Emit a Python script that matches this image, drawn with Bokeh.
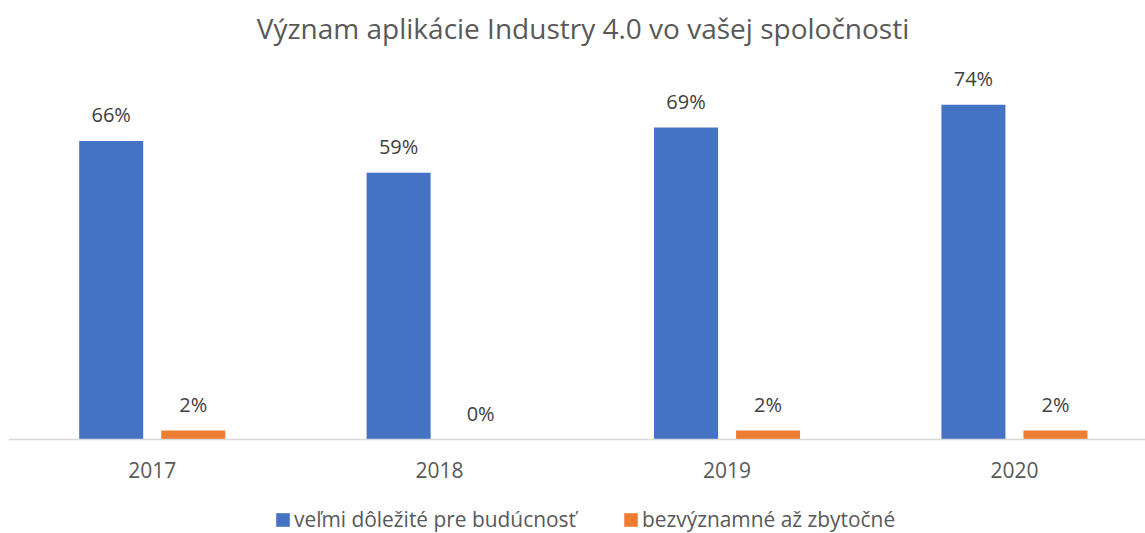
from bokeh.plotting import figure
from bokeh.models import ColumnDataSource, Range1d, Legend, LegendItem, Span, Label
from bokeh.transform import dodge
from bokeh.core.properties import value
from bokeh.embed import file_html
from bokeh.resources import INLINE

years = ["2017", "2018", "2019", "2020"]
important = [66, 59, 69, 74]
useless = [2, 0, 2, 2]
series_names = ["veľmi dôležité pre budúcnosť", "bezvýznamné až zbytočné"]
title_text = "Význam aplikácie Industry 4.0 vo vašej spoločnosti"

FONT = "Open Sans"
BLUE = "#4472C4"
ORANGE = "#ED7D31"

xpos = [i + 0.5 for i in range(len(years))]
src = ColumnDataSource(dict(
    x=xpos,
    year=years,
    imp=important,
    use=useless,
    imp_lbl=[f"{v}%" for v in important],
    use_lbl=[f"{v}%" for v in useless],
))

W, H = 1145, 533
p = figure(width=W, height=H, output_backend="svg", toolbar_location=None,
           x_range=Range1d(0, 3.956), y_range=Range1d(-20.78, 97.06),
           min_border_left=8, min_border_right=0, min_border_top=0, min_border_bottom=0)

p.xaxis.visible = False
p.yaxis.visible = False
p.xgrid.visible = False
p.ygrid.visible = False
p.outline_line_color = None

# baseline (category axis line)
p.add_layout(Span(location=0, dimension="width", line_color="#D9D9D9", line_width=1.5))

bw = 0.2227
off = 0.1427
r1 = p.vbar(x=dodge("x", -off), top="imp", width=bw, source=src, color=BLUE, line_color=None)
r2 = p.vbar(x=dodge("x", off), top="use", width=bw, source=src, color=ORANGE, line_color=None)

# data labels
for fld, lbl, o in (("imp", "imp_lbl", -off), ("use", "use_lbl", off)):
    p.text(x=dodge("x", o), y=fld, text=lbl, source=src, text_align="center",
           text_baseline="alphabetic", y_offset=-26.0, text_font=value(FONT),
           text_font_size="20px", text_color="#404040")

# category labels
p.text(x="x", y=0, text="year", source=src, text_align="center",
       text_baseline="alphabetic", y_offset=30.3, text_font=value(FONT),
       text_font_size="21px", text_color="#595959")

# title
p.add_layout(Label(x=574.5, y=506, x_units="screen", y_units="screen", text=title_text,
                   text_align="center", text_baseline="middle", text_font=FONT,
                   text_font_size="28px", text_color="#595959"))

legend = Legend(items=[LegendItem(label=series_names[0], renderers=[r1]),
                       LegendItem(label=series_names[1], renderers=[r2])],
                orientation="horizontal", location=(266, 0))
legend.label_text_font = FONT
legend.label_text_font_size = "20.9px"
legend.label_text_color = "#595959"
legend.label_text_line_height = 0.8
legend.label_height = 20
legend.glyph_width = 17
legend.glyph_height = 17
legend.label_standoff = 3
legend.spacing = 46
legend.border_line_color = None
legend.background_fill_alpha = 0
legend.padding = 0
legend.margin = 0
p.add_layout(legend, "center")

open("out.html", "w").write(file_html(p, INLINE))
